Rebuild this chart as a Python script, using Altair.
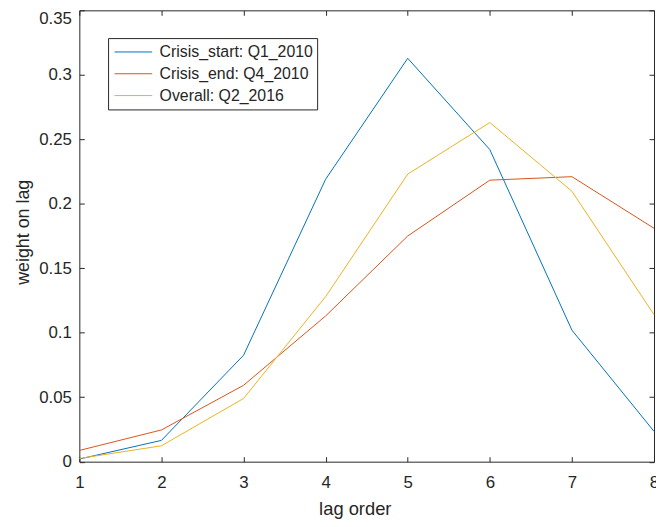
import altair as alt
import pandas as pd

lags = [1, 2, 3, 4, 5, 6, 7, 8]
crisis_start = [0.002, 0.0165, 0.0825, 0.219, 0.3128, 0.242, 0.102, 0.0235]
crisis_end = [0.0087, 0.0246, 0.0592, 0.113, 0.175, 0.2183, 0.221, 0.181]
overall = [0.0025, 0.0123, 0.049, 0.128, 0.223, 0.263, 0.2097, 0.114]

series_names = ["Crisis_start: Q1_2010", "Crisis_end: Q4_2010", "Overall: Q2_2016"]
series_colors = ["#0072BD", "#D95319", "#EDB120"]
x_ticks = [1, 2, 3, 4, 5, 6, 7, 8]
y_ticks = [0, 0.05, 0.1, 0.15, 0.2, 0.25, 0.3, 0.35]

rows = []
for name, vals in zip(series_names, [crisis_start, crisis_end, overall]):
    for lag, v in zip(lags, vals):
        rows.append({"lag": lag, "weight": v, "series": name})
df = pd.DataFrame(rows)

FONT = "Liberation Sans"
TXT = "#262626"
W, H = 580, 455.5

xscale = alt.Scale(domain=[1, 8], nice=False, zero=False)
yscale = alt.Scale(domain=[0, 0.35], nice=False, zero=False)

lines = alt.Chart(df).mark_line(strokeWidth=1).encode(
    x=alt.X("lag:Q", scale=xscale,
            axis=alt.Axis(orient="bottom", values=x_ticks, title="lag order",
                          grid=False, domain=False, offset=-5, tickSize=5,
                          labelFlush=False,
                          tickColor=TXT, labelColor=TXT, labelFont=FONT,
                          labelFontSize=17, labelPadding=13,
                          titleFont=FONT, titleFontSize=18.5, titleColor=TXT,
                          titleFontWeight="normal", titleX=278, titleY=58,
                          titleBaseline="alphabetic")),
    y=alt.Y("weight:Q", scale=yscale,
            axis=alt.Axis(orient="left", values=y_ticks, format="~g",
                          title="weight on lag", grid=False, domain=False,
                          offset=-5, tickSize=5, tickColor=TXT, labelColor=TXT,
                          labelFont=FONT, labelFontSize=17, labelPadding=8,
                          labelFlush=False,
                          labelBaseline={"condition": {"test": "datum.value >= 0.349",
                                                       "value": "top"},
                                         "value": "middle"},
                          titleFont=FONT, titleFontSize=18, titleColor=TXT,
                          titleFontWeight="normal", titleX=-56, titleY=223.5,
                          titleBaseline="alphabetic", titleAngle=270)),
    color=alt.Color("series:N",
                    scale=alt.Scale(domain=series_names, range=series_colors),
                    legend=alt.Legend(title=None, orient="none", legendX=29,
                                      legendY=28, symbolType="stroke",
                                      symbolSize=1444, symbolStrokeWidth=1,
                                      symbolOffset=2,
                                      clipHeight=20, rowPadding=2,
                                      labelFont=FONT, labelFontSize=16,
                                      labelColor=TXT, labelLimit=400,
                                      labelOffset=7, padding=4,
                                      strokeColor=TXT, fillColor="white")),
)

frame_axes = alt.Chart(df).mark_line(opacity=0).encode(
    x=alt.X("lag:Q", scale=xscale,
            axis=alt.Axis(orient="top", values=x_ticks, title=None, labels=False,
                          grid=False, domain=False, offset=-5, tickSize=5,
                          tickColor=TXT)),
    y=alt.Y("weight:Q", scale=yscale,
            axis=alt.Axis(orient="right", values=y_ticks, title=None,
                          labels=False, grid=False, domain=False, offset=-5,
                          tickSize=5, tickColor=TXT)),
    detail="series:N",
)

chart = alt.layer(lines, frame_axes).resolve_axis(
    x="independent", y="independent"
).properties(
    width=W, height=H,
    autosize=alt.AutoSizeParams(type="none"),
    padding={"left": 72, "top": 0, "right": 2, "bottom": 55},
    background="white",
).configure_view(stroke=TXT, strokeWidth=1)

chart.save("out.html", embed_options={"renderer": "svg", "actions": False})
